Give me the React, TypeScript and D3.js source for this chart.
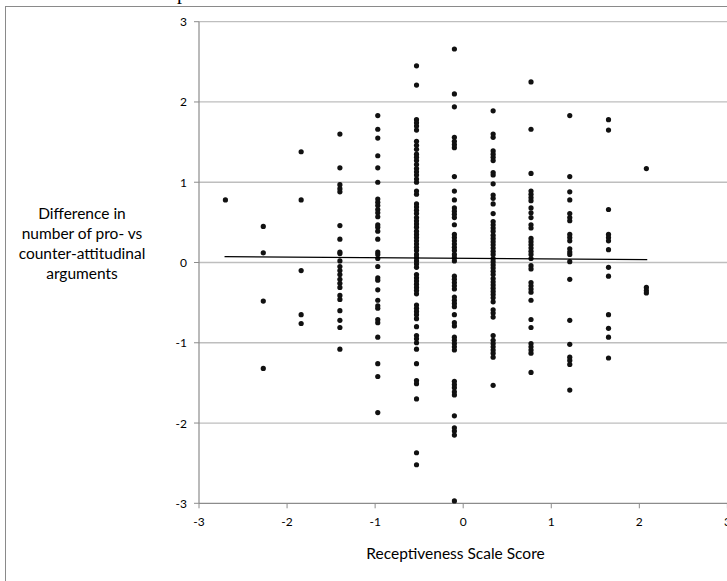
import React from 'react';
import * as d3 from 'd3';

// Receptiveness scale levels (x positions of the point columns)
const xLevels = [-2.7, -2.27, -1.84, -1.4, -0.97, -0.53, -0.1, 0.34, 0.77, 1.21, 1.65, 2.08];

// Difference values observed at each level
const yLevel1 = [0.78];
const yLevel2 = [0.45, 0.12, -0.48, -1.32];
const yLevel3 = [1.38, 0.78, -0.1, -0.65, -0.76];
const yLevel4 = [1.6, 1.18, 0.97, 0.92, 0.88, 0.46, 0.29, 0.13, 0.11, 0.02, -0.05, -0.1, -0.15, -0.21, -0.26, -0.31, -0.41, -0.46, -0.6, -0.72, -0.81, -1.08];
const yLevel5 = [1.83, 1.66, 1.55, 1.33, 1.18, 1.0, 0.79, 0.75, 0.71, 0.66, 0.62, 0.57, 0.47, 0.44, 0.39, 0.29, 0.13, 0.1, 0.05, -0.05, -0.19, -0.22, -0.34, -0.47, -0.54, -0.57, -0.71, -0.75, -0.93, -1.26, -1.42, -1.87];
const yLevel6 = [2.45, 2.21, 1.78, 1.74, 1.7, 1.65, 1.51, 1.46, 1.41, 1.35, 1.31, 1.27, 1.22, 1.17, 1.13, 1.09, 1.04, 1.0, 0.89, 0.85, 0.73, 0.69, 0.65, 0.61, 0.56, 0.52, 0.48, 0.44, 0.39, 0.35, 0.31, 0.27, 0.23, 0.19, 0.15, 0.1, 0.06, 0.02, -0.02, -0.06, -0.15, -0.19, -0.23, -0.27, -0.31, -0.35, -0.39, -0.53, -0.57, -0.61, -0.65, -0.7, -0.8, -0.91, -0.95, -1.0, -1.08, -1.26, -1.47, -1.51, -1.7, -2.37, -2.52];
const yLevel7 = [2.66, 2.1, 1.94, 1.56, 1.51, 1.47, 1.43, 1.07, 0.89, 0.78, 0.68, 0.64, 0.6, 0.56, 0.47, 0.35, 0.31, 0.27, 0.23, 0.19, 0.15, 0.1, 0.06, 0.02, -0.17, -0.21, -0.25, -0.29, -0.33, -0.43, -0.47, -0.51, -0.55, -0.65, -0.75, -0.79, -0.93, -0.97, -1.01, -1.05, -1.09, -1.48, -1.52, -1.56, -1.61, -1.65, -1.91, -2.06, -2.1, -2.15, -2.97];
const yLevel8 = [1.89, 1.6, 1.56, 1.39, 1.35, 1.31, 1.27, 1.12, 1.09, 0.98, 0.84, 0.8, 0.73, 0.61, 0.51, 0.47, 0.43, 0.39, 0.34, 0.3, 0.26, 0.22, 0.18, 0.14, 0.1, 0.05, 0.01, -0.03, -0.07, -0.11, -0.15, -0.2, -0.24, -0.28, -0.32, -0.36, -0.4, -0.44, -0.49, -0.59, -0.63, -0.68, -0.91, -0.97, -1.01, -1.05, -1.09, -1.13, -1.18, -1.53];
const yLevel9 = [2.25, 1.66, 1.11, 0.89, 0.85, 0.81, 0.77, 0.68, 0.62, 0.56, 0.47, 0.43, 0.3, 0.26, 0.22, 0.18, 0.14, 0.1, 0.05, -0.04, -0.08, -0.25, -0.29, -0.33, -0.37, -0.47, -0.71, -0.81, -1.01, -1.05, -1.09, -1.13, -1.37];
const yLevel10 = [1.83, 1.07, 0.88, 0.78, 0.61, 0.56, 0.52, 0.35, 0.31, 0.27, 0.17, 0.13, 0.1, 0.01, -0.21, -0.72, -1.02, -1.18, -1.22, -1.27, -1.59];
const yLevel11 = [1.78, 1.65, 0.66, 0.35, 0.31, 0.27, 0.16, -0.06, -0.17, -0.65, -0.82, -0.93, -1.19];
const yLevel12 = [1.17, -0.31, -0.35, -0.38];

const yByLevel = [yLevel1, yLevel2, yLevel3, yLevel4, yLevel5, yLevel6, yLevel7, yLevel8, yLevel9, yLevel10, yLevel11, yLevel12];

// Fitted trend line endpoints
const trendX = [-2.71, 2.09];
const trendY = [0.072, 0.036];

const axisTicks = [-3, -2, -1, 0, 1, 2, 3];
const xTitle = 'Receptiveness Scale Score';
const yTitleLines = ['Difference in', 'number of pro- vs', 'counter-attitudinal', 'arguments'];

const W = 727;
const H = 581;

export default function App() {
  const x = d3.scaleLinear().domain([-3, 3]).range([199, 727.4]);
  const y = d3.scaleLinear().domain([-3, 3]).range([503.3, 21.7]);

  const points: { px: number; py: number }[] = [];
  xLevels.forEach((lv, i) => {
    yByLevel[i].forEach((v) => points.push({ px: x(lv), py: y(v) }));
  });

  const trend = d3
    .line<number>()
    .x((d) => x(d))
    .y((_, i) => y(trendY[i]))(trendX);

  const font = "Lato, 'Open Sans', sans-serif";

  return (
    <svg
      width={W}
      height={H}
      style={{ position: 'absolute', left: 0, top: 0, background: '#fff' }}
    >
      <rect x={0} y={0} width={W} height={H} fill="#fff" />
      {/* cut-off title fragment */}
      <text x={177} y={-1} fontFamily="'Liberation Serif', serif" fontSize={20} fill="#000">
        p
      </text>
      {/* outer frame */}
      <rect x={5.5} y={6.5} width={W + 10} height={H + 10} fill="none" stroke="#8a8a8a" strokeWidth={1} />

      {/* gridlines */}
      {axisTicks
        .filter((t) => t > -3)
        .map((t) => (
          <line key={'g' + t} x1={x(-3)} x2={W} y1={y(t)} y2={y(t)} stroke="#bebebe" strokeWidth={1.3} />
        ))}

      {/* y axis */}
      <line x1={x(-3)} x2={x(-3)} y1={y(3)} y2={y(-3)} stroke="#8c8c8c" strokeWidth={1.2} />
      {axisTicks.map((t) => (
        <g key={'yt' + t}>
          <line x1={x(-3) - 5} x2={x(-3)} y1={y(t)} y2={y(t)} stroke="#8c8c8c" strokeWidth={1} />
          <text x={x(-3) - 12} y={y(t) + 4.5} textAnchor="end" fontFamily={font} fontSize={12} fill="#000">
            {t}
          </text>
        </g>
      ))}

      {/* x axis */}
      <line x1={x(-3)} x2={W} y1={y(-3)} y2={y(-3)} stroke="#8c8c8c" strokeWidth={1.2} />
      {axisTicks.map((t) => (
        <g key={'xt' + t}>
          <line x1={x(t)} x2={x(t)} y1={y(-3)} y2={y(-3) + 5} stroke="#8c8c8c" strokeWidth={1} />
          <text x={x(t)} y={y(-3) + 23} textAnchor="middle" fontFamily={font} fontSize={12} fill="#000">
            {t}
          </text>
        </g>
      ))}

      {/* points */}
      {points.map((p, i) => (
        <circle key={i} cx={p.px} cy={p.py} r={2.6} fill="#111" />
      ))}

      {/* trend line */}
      <path d={trend || ''} fill="none" stroke="#000" strokeWidth={1.2} />

      {/* axis titles */}
      <text x={455.5} y={558.5} textAnchor="middle" fontFamily={font} fontSize={15.5} fill="#000">
        {xTitle}
      </text>
      {yTitleLines.map((s, i) => (
        <text key={s} x={82} y={218.5 + i * 20.3} textAnchor="middle" fontFamily={font} fontSize={15.5} fill="#000">
          {s}
        </text>
      ))}
    </svg>
  );
}
